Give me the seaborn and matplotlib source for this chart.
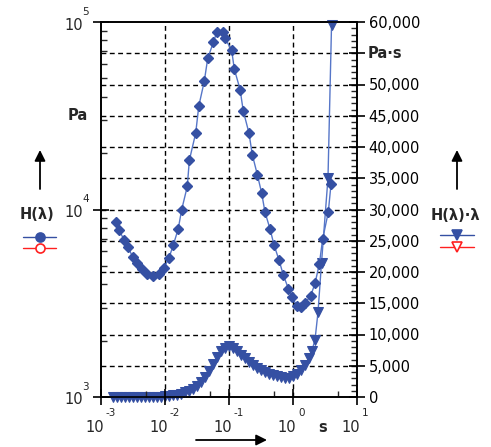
import numpy as np
import pandas as pd
import matplotlib
matplotlib.use("Agg")
import matplotlib.pyplot as plt
import seaborn as sns
from matplotlib.ticker import FixedLocator, FixedFormatter, NullFormatter
from matplotlib.lines import Line2D
from matplotlib.transforms import blended_transform_factory, offset_copy

# ---- data ----
lam_H = [1.71e-3, 1.93e-3, 2.29e-3, 2.67e-3, 3.13e-3, 3.61e-3, 4.33e-3, 5.18e-3,
         6.56e-3, 8.15e-3, 9.64e-3, 1.15e-2, 1.35e-2, 1.61e-2, 1.82e-2, 2.23e-2,
         2.40e-2, 3.02e-2, 3.37e-2, 4.11e-2, 4.65e-2, 5.69e-2, 6.43e-2, 7.98e-2,
         8.66e-2, 0.110, 0.121, 0.149, 0.167, 0.205, 0.231, 0.277, 0.324, 0.365,
         0.437, 0.505, 0.604, 0.705, 0.845, 0.976, 1.14, 1.33, 1.54, 1.89, 2.21,
         2.58, 2.91, 3.56, 3.93]
H_vals = [8550, 7730, 6890, 6280, 5560, 5160, 4820, 4530,
          4400, 4530, 4880, 5500, 6470, 7890, 9960, 13280,
          18290, 25600, 35560, 48300, 63960, 77850, 88100, 88700,
          81850, 70800, 56100, 43650, 33570, 25600, 19640, 15350, 12220, 9680,
          7890, 6470, 5380, 4480, 3790, 3400, 3070, 3010, 3160, 3470, 4040,
          5130, 6970, 9680, 13710]

lam_HL = [1.54e-3, 1.78e-3, 2.05e-3, 2.37e-3, 2.74e-3, 3.16e-3, 3.65e-3, 4.22e-3,
          4.87e-3, 5.62e-3, 6.49e-3, 7.50e-3, 8.66e-3, 1.00e-2, 1.155e-2, 1.33e-2,
          1.54e-2, 1.78e-2, 2.05e-2, 2.37e-2, 2.74e-2, 3.16e-2, 3.65e-2, 4.22e-2,
          4.87e-2, 5.62e-2, 6.49e-2, 7.50e-2, 8.66e-2, 0.100, 0.1155, 0.133,
          0.154, 0.178, 0.205, 0.237, 0.274, 0.316, 0.365, 0.422, 0.487, 0.562,
          0.649, 0.750, 0.866, 1.00, 1.155, 1.33, 1.54, 1.78, 1.98, 2.21, 2.46,
          2.79, 3.52, 4.00]
HL_vals = [0, 0, 0, 0, 0, 0, 0, 0,
           0, 0, 30, 50, 80, 120, 180, 260,
           380, 550, 750, 1000, 1350, 1800, 2400, 3200,
           4200, 5300, 6400, 7300, 7900, 8100, 7900, 7400,
           6800, 6200, 5600, 5100, 4700, 4300, 4000, 3750, 3500, 3300,
           3150, 3050, 3100, 3300, 3700, 4300, 5100, 6200, 7400, 9200, 13600,
           21500, 35000, 59500]

left_ticks = [1e3, 1e4, 1e5]
left_exps = ["3", "4", "5"]
x_ticks = [1e-3, 1e-2, 1e-1, 1e0, 1e1]
x_exps = ["-3", "-2", "-1", "0", "1"]
right_ticks = list(range(0, 60001, 5000))
right_labels = ["{:,}".format(v) for v in right_ticks]
right_labels[11] = ""  # replaced by unit label "Pa·s"

df_H = pd.DataFrame({"lam": lam_H, "H": H_vals})
df_HL = pd.DataFrame({"lam": lam_HL, "HL": HL_vals})

sns.set_theme(style="white")
plt.rcParams['font.family'] = ['DejaVu Sans']

W, Hh = 491, 447
fig = plt.figure(figsize=(W / 100, Hh / 100), dpi=100)
ax = fig.add_axes([101 / W, 1 - 397 / Hh, 256 / W, 375 / Hh])
ax2 = ax.twinx()

def fp(x, y):
    return (x / W, 1 - y / Hh)

blue = '#3550a3'
lblue = '#5676c8'

for a in (ax, ax2):
    a.set_xscale('log')
ax.set_yscale('log')

ax.set_zorder(2)
ax2.set_zorder(1)
ax.patch.set_visible(False)

sns.lineplot(data=df_HL, x="lam", y="HL", ax=ax2, sort=False, color=lblue,
             linewidth=1.0, marker='v', markersize=6.5, markerfacecolor=blue,
             markeredgecolor=blue, clip_on=False, zorder=3)
sns.lineplot(data=df_H, x="lam", y="H", ax=ax, sort=False, color=lblue,
             linewidth=1.0, marker='D', markersize=4.8, markerfacecolor=blue,
             markeredgecolor=blue, markeredgewidth=1.0, zorder=3)

ax.set_xlim(1e-3, 1e1)
ax.set_ylim(1e3, 1e5)
ax2.set_ylim(0, 60000)
for a in (ax, ax2):
    a.set_xlabel("")
    a.set_ylabel("")

for v in [1e-2, 1e-1, 1e0]:
    ax2.axvline(v, color='black', lw=1.0, ls=(0, (3.5, 2.5)), zorder=1)
for v in range(5000, 60000, 5000):
    ax2.axhline(v, color='black', lw=1.0, ls=(0, (3.5, 2.5)), zorder=1)

for a in (ax, ax2):
    for s in a.spines.values():
        s.set_color('black')
        s.set_linewidth(1.2)

fs = 10.5
fs_exp = 7.5

ax.xaxis.set_major_locator(FixedLocator(x_ticks))
ax.xaxis.set_minor_locator(FixedLocator([5e-3, 5e-2, 5e-1, 5]))
ax.xaxis.set_major_formatter(NullFormatter())
ax.xaxis.set_minor_formatter(NullFormatter())

ax.yaxis.set_major_locator(FixedLocator(left_ticks))
ax.yaxis.set_minor_locator(FixedLocator([k * 10 ** e for e in (3, 4) for k in range(2, 10)]))
ax.yaxis.set_major_formatter(NullFormatter())
ax.yaxis.set_minor_formatter(NullFormatter())

ax2.yaxis.set_major_locator(FixedLocator(right_ticks))
ax2.yaxis.set_major_formatter(FixedFormatter(right_labels))
ax2.yaxis.set_minor_locator(FixedLocator([v for v in range(0, 60001, 1000) if v % 5000]))
ax2.yaxis.set_minor_formatter(NullFormatter())

ax.tick_params(axis='x', which='major', direction='inout', length=11, width=1.2,
               bottom=True, top=False, colors='black')
ax.tick_params(axis='x', which='minor', direction='in', length=4, width=1.0, bottom=True, top=False)
ax.tick_params(axis='y', which='major', direction='inout', length=11, width=1.2,
               left=True, right=False, colors='black')
ax.tick_params(axis='y', which='minor', direction='in', length=4, width=1.0, left=True, right=False)
ax2.tick_params(axis='y', which='major', direction='inout', length=11, width=1.2,
                labelsize=fs, pad=3, right=True, left=False, colors='black')
ax2.tick_params(axis='y', which='minor', direction='in', length=4, width=1.0, right=True, left=False)
ax2.tick_params(axis='x', which='both', bottom=False, top=False, labelbottom=False)

# power-of-ten tick labels ("10" with raised exponent)
tx = blended_transform_factory(ax.transData, ax.transAxes)
for v, e in zip(x_ticks, x_exps):
    ax.text(v, 0, "10", fontsize=fs, ha='center', va='center', clip_on=False,
            transform=offset_copy(tx, fig, x=-6, y=-30, units='dots'))
    ax.text(v, 0, e, fontsize=fs_exp, ha='left', va='center', clip_on=False,
            transform=offset_copy(tx, fig, x=5, y=-16, units='dots'))
ty = blended_transform_factory(ax.transAxes, ax.transData)
for v, e in zip(left_ticks, left_exps):
    ax.text(0, v, "10", fontsize=fs, ha='right', va='center', clip_on=False,
            transform=offset_copy(ty, fig, x=-18, y=-3, units='dots'))
    ax.text(0, v, e, fontsize=fs_exp, ha='left', va='center', clip_on=False,
            transform=offset_copy(ty, fig, x=-19, y=10, units='dots'))

# unit labels
fig.text(*fp(78, 116), "Pa", fontsize=fs, fontweight='bold', ha='center', va='center')
fig.text(*fp(368, 53), "Pa·s", fontsize=fs, fontweight='bold', ha='left', va='center')
fig.text(*fp(323, 428), "s", fontsize=fs, fontweight='bold', ha='center', va='center')

# legend-like labels
fig.text(*fp(37, 215), "H(λ)", fontsize=fs, fontweight='bold', ha='center', va='center')
fig.text(*fp(455, 216), "H(λ)·λ", fontsize=fs, fontweight='bold', ha='center', va='center')

def leg_line(x0, x1, y, color, marker, filled):
    fig.add_artist(Line2D([x0 / W, x1 / W], [1 - y / Hh, 1 - y / Hh], color=color, lw=1.0,
                          transform=fig.transFigure))
    fig.add_artist(Line2D([(x0 + x1) / 2 / W], [1 - y / Hh], color=color, lw=0, marker=marker,
                          markersize=6.5, markerfacecolor=color if filled else 'white',
                          markeredgecolor=color, markeredgewidth=1.2, transform=fig.transFigure))

leg_line(23, 56, 237, blue, 'o', True)
leg_line(23, 56, 248, '#ff2020', 'o', False)
leg_line(440, 474, 235, blue, 'v', True)
leg_line(440, 474, 247, '#ff2020', 'v', False)

arrow_kw = dict(arrowstyle='-|>', color='black', lw=1.3, mutation_scale=16, shrinkA=0, shrinkB=0)
ax.annotate('', xy=fp(40, 150), xytext=fp(40, 189), xycoords='figure fraction',
            textcoords='figure fraction', arrowprops=arrow_kw, annotation_clip=False)
ax.annotate('', xy=fp(457, 150), xytext=fp(457, 189), xycoords='figure fraction',
            textcoords='figure fraction', arrowprops=arrow_kw, annotation_clip=False)
ax.annotate('', xy=fp(267, 440), xytext=fp(196, 440), xycoords='figure fraction',
            textcoords='figure fraction', arrowprops=arrow_kw, annotation_clip=False)

fig.savefig("out.png", dpi=100)
